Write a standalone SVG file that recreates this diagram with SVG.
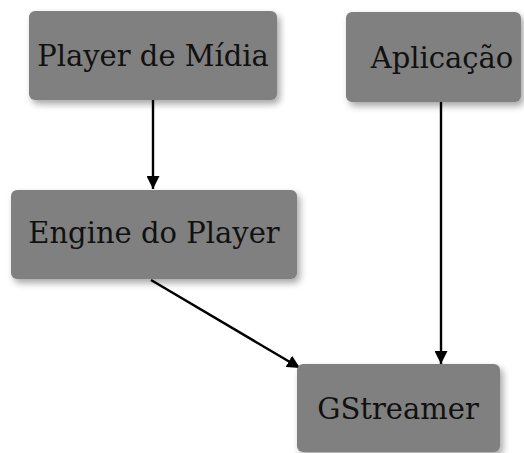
<svg xmlns="http://www.w3.org/2000/svg" width="524" height="453" viewBox="0 0 524 453">
<defs>
<style>
.box{fill:#808080;filter:url(#sh)}
.lbl{font-family:"DejaVu Serif",serif;font-size:29px;fill:#111;text-anchor:middle}
.edge{stroke:#000;stroke-width:2.4;fill:none;marker-end:url(#ah)}
</style>
<filter id="sh" x="-10%" y="-10%" width="125%" height="135%">
<feDropShadow dx="3" dy="4" stdDeviation="3.5" flood-color="#000" flood-opacity="0.35"/>
</filter>
<marker id="ah" viewBox="0 0 12 12" refX="12" refY="6" markerWidth="13" markerHeight="13" markerUnits="userSpaceOnUse" orient="auto">
<path d="M0,0 L12,6 L0,12 z" fill="#000"/>
</marker>
</defs>
<g id="connectors">
<line class="edge" x1="153" y1="100" x2="153" y2="189"/>
<line class="edge" x1="441" y1="102" x2="441" y2="364"/>
<line class="edge" x1="151" y1="280" x2="300" y2="368"/>
</g>
<g id="player">
<rect class="box" x="29" y="11" width="248" height="89" rx="6"/>
<text class="lbl" x="153" y="66">Player de Mídia</text>
</g>
<g id="aplicacao">
<rect class="box" x="346" y="12" width="175" height="90" rx="6"/>
<text class="lbl" x="442" y="68">Aplicação</text>
</g>
<g id="engine">
<rect class="box" x="11" y="190" width="286" height="89" rx="6"/>
<text class="lbl" x="154" y="243">Engine do Player</text>
</g>
<g id="gstreamer">
<rect class="box" x="297" y="364" width="203" height="88" rx="6"/>
<text class="lbl" x="398" y="419">GStreamer</text>
</g>
</svg>
